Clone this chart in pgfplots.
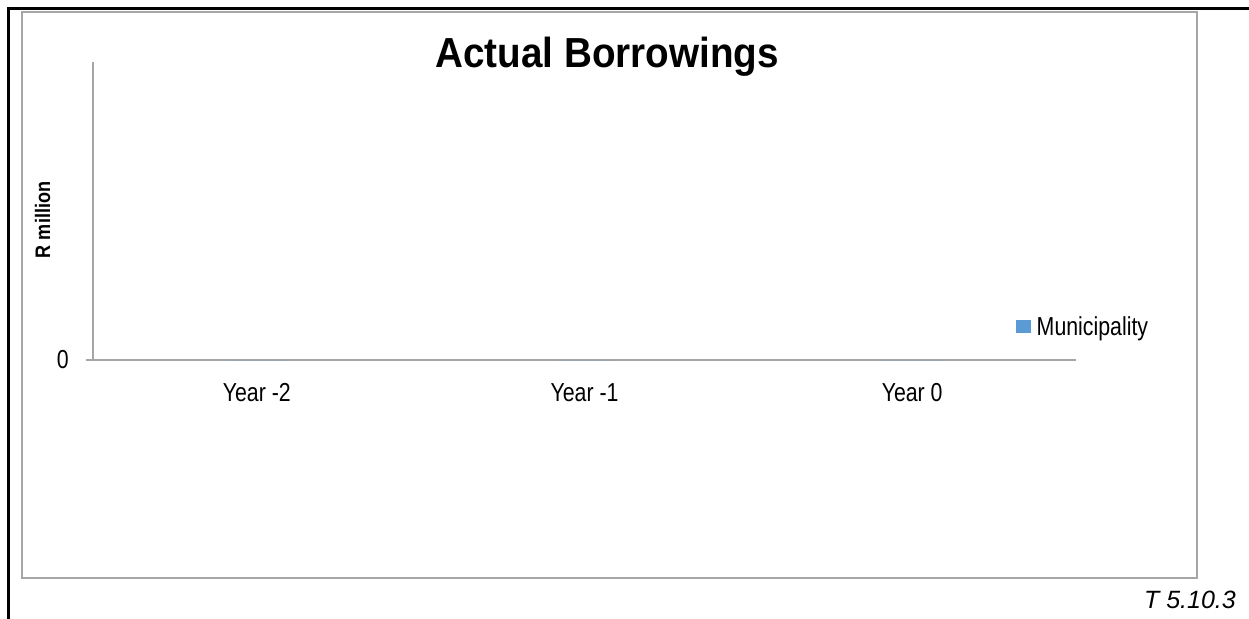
\documentclass[border=0pt]{standalone}
\usepackage{pgfplots}
\pgfplotsset{compat=1.18}
\usepackage{fontspec}
\setmainfont{Liberation Sans}
\newfontfamily\chartfont[FakeStretch=0.82]{Liberation Sans}
\newfontfamily\titlefont[FakeStretch=0.92]{Liberation Sans}
\newfontfamily\labelfont[FakeStretch=0.86]{Liberation Sans}
\definecolor{barblue}{HTML}{5B9BD5}
\definecolor{axgray}{HTML}{A6A6A6}
\begin{document}
\begin{tikzpicture}[x=1bp,y=1bp]
\path[use as bounding box] (0,0) rectangle (1249,-619);
\draw[line width=2.3bp] (8.5,-619) -- (8.5,-8.5) -- (1249,-8.5);
\draw[axgray, line width=1.4bp] (22,-12) rectangle (1197,-578);
\begin{axis}[
  at={(93bp,-360bp)}, anchor=south west,
  scale only axis, width=983bp, height=298bp,
  xmin=-0.5, xmax=2.5, ymin=0, ymax=1,
  axis x line=bottom, axis y line=left,
  axis line style={axgray, line width=1.2bp, -},
  xtick={0,1,2}, xticklabels={Year -2, Year -1, Year 0},
  ytick={0},
  major x tick style={draw=none},
  major y tick style={axgray, line width=1.2bp},
  major tick length=7bp, tick align=outside,
  tick label style={font=\chartfont\fontsize{26bp}{30bp}\selectfont},
  xticklabel style={anchor=base, inner sep=0pt, yshift=-34bp},
  yticklabel style={anchor=east, inner sep=0pt, xshift=-17bp},
  /pgf/number format/assume math mode=true,
  title={\textbf{Actual Borrowings}},
  title style={at={(axis description cs:0.523,1)}, anchor=base, yshift=-11bp, font=\titlefont\fontsize{42bp}{48bp}\selectfont},
  ylabel={\textbf{R million}},
  ylabel style={at={(axis description cs:-0.0437,0.47)}, anchor=base, rotate=0, font=\labelfont\fontsize{21bp}{25bp}\selectfont},
  legend style={at={(axis description cs:0.939,0.111)}, anchor=west, draw=none, fill=none, inner sep=0pt, font=\chartfont\fontsize{26bp}{30bp}\selectfont, nodes={inner sep=0pt, anchor=west}, /tikz/every odd column/.append style={column sep=6bp}},
  legend image code/.code={\fill[#1] (0bp,-6.5bp) rectangle (14.5bp,6.5bp);},
]
\addplot[ybar, bar width=60bp, fill=barblue, draw=none] coordinates {(0,0) (1,0) (2,0)};
\addlegendentry{Municipality}
\end{axis}
\node[anchor=base east, inner sep=0pt, font=\fontsize{25bp}{30bp}\selectfont\itshape] at (1236,-608) {T 5.10.3};
\end{tikzpicture}
\end{document}
